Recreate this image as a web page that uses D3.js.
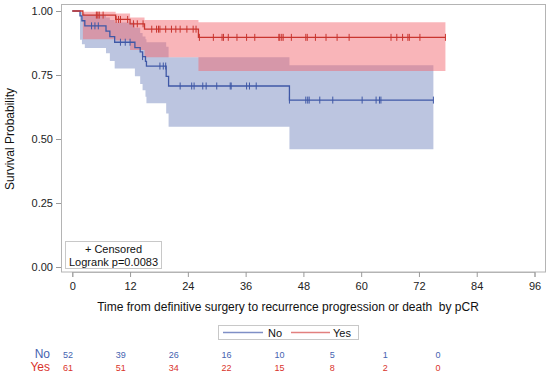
<!DOCTYPE html>
<html>
<head>
<meta charset="utf-8">
<script src="https://cdn.jsdelivr.net/npm/d3@7"></script>
<style>
  body { margin: 0; background: #fff; }
  text { font-family: "Liberation Sans", Arial, sans-serif; }
</style>
</head>
<body>
<script>
// Kaplan-Meier steps (months, survival, 95% band)
var noTimes  = [0, 1.6, 2.0, 2.6, 7.0, 7.8, 8.8, 13.0, 14.1, 14.6, 15.2, 15.4, 19.5, 20.0, 45.1];
var noSurv   = [1, 0.981, 0.962, 0.942, 0.921, 0.900, 0.878, 0.857, 0.840, 0.822, 0.803, 0.785, 0.745, 0.707, 0.652];
var noLower  = [1, 0.888, 0.870, 0.855, 0.835, 0.805, 0.775, 0.745, 0.715, 0.690, 0.665, 0.640, 0.600, 0.548, 0.460];
var noUpper  = [1, 0.997, 0.990, 0.985, 0.975, 0.965, 0.955, 0.935, 0.914, 0.900, 0.890, 0.878, 0.860, 0.819, 0.788];
var noEnd    = 75.0;
var noCensor = [4.0, 4.7, 5.4, 10.0, 11.0, 12.0, 14.6, 18.2, 18.9, 19.4, 22.4, 24.8, 25.3, 27.1, 27.8,
                30.0, 32.8, 33.0, 36.2, 36.8, 38.2, 45.1, 48.5, 48.9, 49.2, 51.4, 54.1, 60.2, 63.1,
                63.8, 64.1, 75.0];

var yesTimes  = [0, 2.2, 9.0, 12.0, 15.0, 26.2];
var yesSurv   = [1, 0.984, 0.967, 0.950, 0.929, 0.897];
var yesLower  = [1, 0.890, 0.885, 0.848, 0.819, 0.766];
var yesUpper  = [1, 0.997, 0.990, 0.975, 0.965, 0.956];
var yesEnd    = 77.5;
var yesCensor = [5.0, 5.3, 5.6, 6.4, 9.1, 9.6, 10.0, 11.5, 12.7, 13.5, 14.7, 16.5, 17.5, 17.9, 18.2,
                 19.4, 20.6, 21.5, 22.4, 23.8, 25.1, 25.7, 26.4, 29.3, 31.1, 31.4, 32.4, 34.2, 36.2,
                 37.9, 42.9, 43.1, 43.5, 43.8, 45.5, 48.5, 48.8, 50.5, 52.7, 55.0, 57.5, 66.2, 67.4,
                 68.6, 69.7, 70.0, 72.2, 77.5];

var xTicks = [0, 12, 24, 36, 48, 60, 72, 84, 96];
var yTicks = [0, 0.25, 0.5, 0.75, 1];
var riskTimes = [0, 12, 24, 36, 48, 60, 72, 84];
var riskNo  = [52, 39, 26, 16, 10, 5, 1, 0];
var riskYes = [61, 51, 34, 22, 15, 8, 2, 0];

var blue = "#3f58a6", red = "#c9352f";

var svg = d3.select("body").append("svg")
    .attr("width", 550).attr("height", 376);

var x = d3.scaleLinear().domain([0, 96]).range([72.3, 534.5]);
var y = d3.scaleLinear().domain([0, 1]).range([267, 11]);
var xRisk = d3.scaleLinear().domain([0, 84]).range([68, 438]);

// frame
svg.append("rect")
    .attr("x", 61.5).attr("y", 4.5).attr("width", 484).attr("height", 267.5)
    .attr("fill", "none").attr("stroke", "#b4b4b4");

// build step data for a group
function steps(times, surv, lower, upper, end) {
    var pts = times.map(function (t, i) { return { t: t, s: surv[i], lo: lower[i], hi: upper[i] }; });
    var last = pts[pts.length - 1];
    pts.push({ t: end, s: last.s, lo: last.lo, hi: last.hi });
    return pts;
}
function survAt(times, surv, t) {
    var i = d3.bisectRight(times, t) - 1;
    return surv[Math.max(i, 0)];
}

var groups = [
    { pts: steps(noTimes, noSurv, noLower, noUpper, noEnd), times: noTimes, surv: noSurv, cens: noCensor,
      line: blue, fill: "#bcc5e0", op: 1 },
    { pts: steps(yesTimes, yesSurv, yesLower, yesUpper, yesEnd), times: yesTimes, surv: yesSurv, cens: yesCensor,
      line: red, fill: "rgb(242,101,109)", op: 0.48 }
];

var band = d3.area().curve(d3.curveStepAfter)
    .x(function (d) { return x(d.t); })
    .y0(function (d) { return y(d.lo); })
    .y1(function (d) { return y(d.hi); });
var line = d3.line().curve(d3.curveStepAfter)
    .x(function (d) { return x(d.t); })
    .y(function (d) { return y(d.s); });

groups.forEach(function (g) {
    svg.append("path").attr("d", band(g.pts))
        .attr("fill", g.fill).attr("fill-opacity", g.op).attr("stroke", "none");
});
groups.forEach(function (g) {
    svg.append("path").attr("d", line(g.pts))
        .attr("fill", "none").attr("stroke", g.line).attr("stroke-width", 1.3);
    svg.append("g").selectAll("line")
        .data(g.cens).enter().append("line")
        .attr("x1", function (d) { return x(d); })
        .attr("x2", function (d) { return x(d); })
        .attr("y1", function (d) { return y(survAt(g.times, g.surv, d)) - 3.5; })
        .attr("y2", function (d) { return y(survAt(g.times, g.surv, d)) + 3.5; })
        .attr("stroke", g.line).attr("stroke-width", 1);
});

// axes
var xAxis = svg.append("g").attr("transform", "translate(0,272)")
    .call(d3.axisBottom(x).tickValues(xTicks).tickSize(5).tickPadding(5).tickFormat(d3.format("d")));
var yAxis = svg.append("g").attr("transform", "translate(61,0)")
    .call(d3.axisLeft(y).tickValues(yTicks).tickSize(5).tickPadding(3).tickFormat(d3.format(".2f")));
[xAxis, yAxis].forEach(function (a) {
    a.select(".domain").attr("stroke", "#b4b4b4");
    a.selectAll(".tick line").attr("stroke", "#9a9a9a");
    a.selectAll(".tick text").attr("fill", "#222").attr("font-size", 11)
        .attr("font-family", "Liberation Sans, Arial, sans-serif");
});

svg.append("text")
    .attr("transform", "translate(14,139) rotate(-90)")
    .attr("text-anchor", "middle").attr("font-size", 12).attr("fill", "#111")
    .text("Survival Probability");
svg.append("text")
    .attr("x", 288).attr("y", 311)
    .attr("text-anchor", "middle").attr("font-size", 12).attr("fill", "#111")
    .attr("xml:space", "preserve")
    .text("Time from definitive surgery to recurrence progression or death  by pCR");

// inset box
svg.append("rect").attr("x", 65.5).attr("y", 241.5).attr("width", 96).attr("height", 27)
    .attr("fill", "#fff").attr("stroke", "#c8c8c8");
svg.append("text").attr("x", 113.5).attr("y", 253).attr("text-anchor", "middle")
    .attr("font-size", 11).attr("fill", "#111").text("+ Censored");
svg.append("text").attr("x", 113.5).attr("y", 265.5).attr("text-anchor", "middle")
    .attr("font-size", 11).attr("fill", "#111").text("Logrank p=0.0083");

// legend
var leg = svg.append("g");
leg.append("rect").attr("x", 218.5).attr("y", 325.5).attr("width", 140).attr("height", 14)
    .attr("fill", "#fff").attr("stroke", "#c8c8c8");
leg.append("line").attr("x1", 223).attr("x2", 263).attr("y1", 332.5).attr("y2", 332.5)
    .attr("stroke", "#7f8fc6").attr("stroke-width", 1.5);
leg.append("text").attr("x", 268).attr("y", 337).attr("font-size", 11).attr("fill", "#111").text("No");
leg.append("line").attr("x1", 291).attr("x2", 330).attr("y1", 332.5).attr("y2", 332.5)
    .attr("stroke", "#e2807f").attr("stroke-width", 1.5);
leg.append("text").attr("x", 333).attr("y", 337).attr("font-size", 11).attr("fill", "#111").text("Yes");

// numbers at risk
var risk = [{ name: "No", vals: riskNo, col: "#4563b0", yy: 358 },
            { name: "Yes", vals: riskYes, col: "#d9332b", yy: 371 }];
risk.forEach(function (r) {
    svg.append("text").attr("x", 50).attr("y", r.yy).attr("text-anchor", "end")
        .attr("font-size", 12).attr("fill", r.col).text(r.name);
    svg.append("g").selectAll("text")
        .data(r.vals).enter().append("text")
        .attr("x", function (d, i) { return xRisk(riskTimes[i]); })
        .attr("y", r.yy - 0.5)
        .attr("text-anchor", "middle").attr("font-size", 9).attr("fill", r.col)
        .text(function (d) { return d; });
});
</script>
</body>
</html>
